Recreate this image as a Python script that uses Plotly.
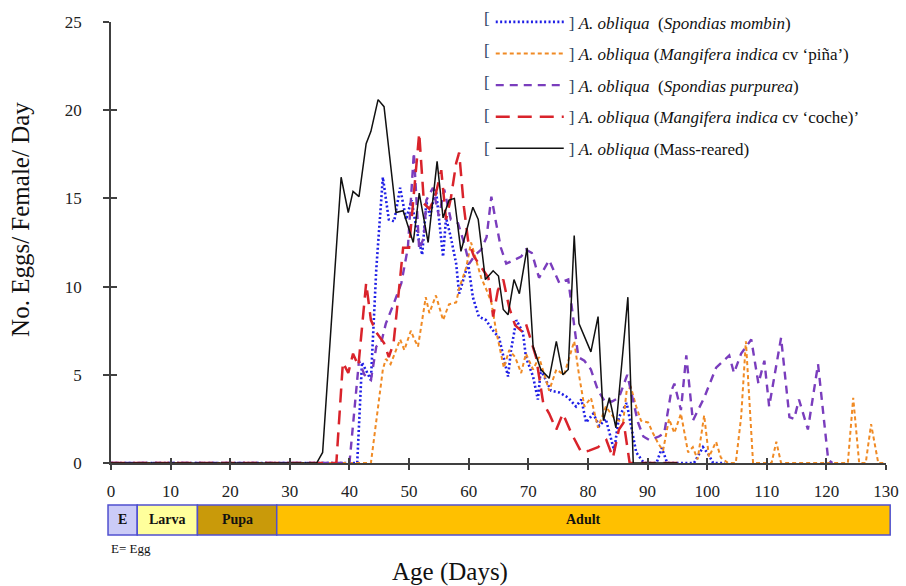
import plotly.graph_objects as go

# ---------------- data ----------------
days_mombin = [0, 41.3, 42.1, 43.6, 44.5, 45.6, 46.6, 47.5, 48.5, 49.5, 50.4, 51.4, 52.2, 52.9, 53.5, 54.5,
               55.7, 56.2, 57.0, 57.9, 58.4, 59.9, 60.7, 61.7, 62.9, 64.1, 65.1, 66.6, 67.1, 68.0, 69.1,
               69.6, 70.8, 71.6, 72.1, 73.8, 75.2, 76.7, 78.0, 78.9, 79.7, 80.9, 81.9, 83.0, 84.4, 85.2,
               86.5, 87.6, 88.1, 89.4, 91.5, 92.4, 93.3, 97.8, 99.3, 100.2, 101.0, 103.0]
eggs_mombin = [0, 0, 5.7, 4.7, 11.0, 16.2, 13.8, 13.7, 15.6, 13.8, 14.9, 13.0, 11.8, 14.8, 14.0, 15.5,
               11.7, 13.9, 12.8, 11.3, 9.6, 11.3, 9.4, 8.3, 8.1, 7.5, 7.1, 4.9, 6.4, 8.1, 7.4,
               6.0, 4.9, 3.6, 5.3, 4.1, 4.0, 3.7, 3.2, 3.6, 2.3, 2.8, 2.1, 2.5, 0.7, 2.6,
               3.4, 1.5, 0.6, 0, 0, 0.85, 0, 0, 0.9, 0.5, 0, 0]

days_pina = [0, 43.6, 45.6, 46.1, 46.9, 47.8, 48.5, 49.2, 50.3, 50.9, 51.5, 52.8, 53.4, 54.5, 55.7, 56.7,
             57.9, 58.4, 59.6, 60.4, 61.2, 62.1, 63.0, 63.8, 64.6, 65.9, 66.8, 67.8, 68.8, 69.6, 70.8,
             71.8, 73.5, 74.7, 76.0, 77.7, 78.5, 79.4, 80.5, 81.7, 83.0, 84.5, 85.9, 86.5, 87.2, 88.1,
             88.9, 90.1, 90.9, 91.8, 92.6, 93.6, 94.5, 95.6, 96.8, 97.6, 98.4, 99.5, 100.3, 101.5, 102.3,
             103.5, 104.8, 105.7, 106.5, 107.7, 110.8, 111.6, 112.4, 123.6, 124.5, 125.5, 126.6, 127.5,
             128.7, 130.0]
eggs_pina = [0, 0, 5.3, 5.9, 5.6, 6.4, 7.0, 6.4, 7.5, 7.0, 6.6, 9.4, 8.5, 9.5, 8.1, 9.0,
             9.1, 9.9, 11.1, 12.5, 11.5, 10.5, 9.8, 9.1, 7.5, 5.4, 6.4, 6.0, 5.1, 6.2, 5.3,
             6.0, 4.1, 5.3, 5.0, 6.9, 5.0, 3.2, 3.7, 2.0, 3.2, 2.5, 2.3, 4.1, 4.3, 3.2,
             2.4, 2.3, 1.7, 1.1, 0.7, 2.5, 1.7, 2.8, 0.6, 0.9, 0.2, 2.7, 0.35, 1.2, 0.3,
             0, 0, 2.6, 6.9, 0, 0, 1.2, 0, 0, 3.7, 0, 0, 2.2,
             0, 0]

days_purpurea = [0, 40.0, 41.6, 42.5, 43.6, 44.5, 45.3, 46.1, 47.5, 48.7, 49.8, 50.8, 51.7, 52.5, 52.9,
                 54.0, 55.0, 55.9, 57.0, 58.2, 59.2, 60.1, 61.1, 62.1, 63.0, 63.8, 64.6, 65.4, 66.3,
                 67.6, 68.8, 69.6, 70.6, 71.8, 73.5, 75.2, 76.7, 77.5, 78.4, 79.4, 80.5, 81.7, 83.0,
                 84.1, 85.2, 86.6, 87.6, 88.4, 89.3, 90.3, 91.9, 92.8, 94.0, 94.5, 95.6, 96.5, 97.6,
                 99.5, 101.5, 103.7, 104.5, 105.7, 107.4, 108.6, 109.6, 110.4, 112.4, 113.8, 114.6,
                 115.4, 116.9, 118.6, 120.3, 121.0]
eggs_purpurea = [0, 0, 5.8, 5.0, 4.7, 6.6, 6.8, 7.9, 9.1, 10.2, 12.2, 17.6, 12.1, 12.8, 14.9,
                 15.6, 14.0, 15.5, 13.8, 13.6, 12.5, 11.3, 11.8, 12.1, 12.8, 15.1, 13.6, 12.2, 11.3,
                 11.5, 11.7, 12.1, 11.9, 10.5, 11.5, 10.2, 10.4, 8.3, 6.0, 5.8, 5.3, 4.1, 3.4,
                 3.5, 3.7, 5.0, 3.6, 2.3, 1.5, 1.3, 1.5, 1.7, 4.1, 4.5, 3.0, 6.1, 2.4,
                 3.7, 5.4, 6.1, 5.1, 6.2, 7.0, 4.5, 5.8, 3.2, 7.1, 2.6, 2.5,
                 3.6, 1.9, 5.6, 0.2, 0]

days_coche = [0, 37.8, 38.9, 39.8, 40.6, 41.5, 42.8, 43.6, 44.5, 45.8, 46.6, 47.4, 48.3, 49.0, 50.0,
              51.7, 52.5, 53.4, 54.3, 55.4, 56.2, 57.0, 57.9, 58.4, 59.2, 59.9, 60.9, 62.1, 63.3, 64.1,
              64.9, 65.8, 66.8, 67.8, 68.8, 69.6, 71.3, 72.5, 73.5, 74.7, 75.8, 77.2, 78.9, 80.2, 81.7,
              83.1, 84.2, 85.2, 86.0, 87.0, 95.0]
eggs_coche = [0, 0, 5.7, 5.1, 6.2, 5.5, 10.2, 8.1, 7.4, 6.8, 6.0, 6.8, 9.8, 12.2, 12.2,
              18.7, 14.7, 14.4, 15.0, 16.6, 13.8, 15.0, 17.0, 17.6, 14.5, 12.6, 11.7, 11.1, 10.5, 8.3,
              9.8, 10.4, 8.8, 7.8, 7.5, 7.9, 6.0, 3.4, 2.8, 1.9, 2.8, 1.7, 0.6, 0.7, 0.9,
              1.3, 0.3, 1.9, 2.3, 0, 0]

days_mass = [0, 34.5, 35.5, 38.6, 39.8, 40.6, 41.6, 42.8, 43.6, 44.8, 45.8, 47.8, 49.0, 50.7, 51.7,
             53.2, 54.7, 55.7, 56.7, 57.6, 58.7, 59.6, 60.7, 61.6, 62.8, 64.1, 65.0, 65.8, 66.6, 67.6,
             68.5, 69.8, 70.8, 72.1, 73.5, 74.7, 75.8, 76.7, 77.7, 78.5, 80.5, 81.7, 82.6, 83.6, 84.7,
             86.7, 87.6, 95.0]
eggs_mass = [0, 0, 0.6, 16.2, 14.2, 15.4, 15.1, 18.1, 18.8, 20.6, 20.2, 14.2, 14.3, 12.5, 15.3,
             12.5, 17.1, 13.9, 14.9, 15.0, 12.0, 13.2, 14.5, 13.8, 10.4, 10.9, 10.6, 8.7, 8.4, 10.4,
             9.6, 12.2, 6.6, 5.3, 4.8, 6.9, 5.0, 5.3, 12.9, 7.9, 6.3, 8.3, 2.4, 3.7, 2.0,
             9.4, 0, 0]

series_names = [
    "<i>A. obliqua</i>  (<i>Spondias mombin</i>)",
    "<i>A. obliqua</i> (<i>Mangifera indica</i> cv ‘piña’)",
    "<i>A. obliqua</i>  (<i>Spondias purpurea</i>)",
    "<i>A. obliqua</i> (<i>Mangifera indica</i> cv ‘coche)’",
    "<i>A. obliqua</i> (Mass-reared)",
]

stage_names = ["E", "Larva", "Pupa", "Adult"]
stage_start = [-0.5, 4.4, 14.5, 27.8]
stage_end = [4.4, 14.5, 27.8, 130.7]

x_ticks = list(range(0, 131, 10))
y_ticks = [0, 5, 10, 15, 20, 25]

# ---------------- styles ----------------
SERIF = "Liberation Serif, Times New Roman, serif"
series_styles = [
    dict(color="#1f1fe6", width=2.6, dash="2px,2.4px"),
    dict(color="#f08a24", width=2.0, dash="4px,3px"),
    dict(color="#7a3dbd", width=2.4, dash="8px,6px"),
    dict(color="#d9232b", width=2.5, dash="14px,8px"),
    dict(color="#111111", width=1.5, dash="solid"),
]
stage_colors = ["#cbcbf7", "#ffff9c", "#c99a0a", "#ffc000"]
AXIS_COL = "#404040"
BRACKET_COL = "#2f4464"

all_days = [days_mombin, days_pina, days_purpurea, days_coche, days_mass]
all_eggs = [eggs_mombin, eggs_pina, eggs_purpurea, eggs_coche, eggs_mass]

fig = go.Figure()
for i, (dx, ey, nm, st) in enumerate(zip(all_days, all_eggs, series_names, series_styles)):
    fig.add_trace(go.Scatter(
        x=dx, y=ey, mode="lines",
        name=f"<span style='color:{BRACKET_COL}'>]</span> " + nm,
        line=st, legendgroup=f"g{i}",
    ))

# invisible trace to draw the inward half of the ticks
fig.add_trace(go.Scatter(x=[None], y=[None], xaxis="x2", yaxis="y2",
                         showlegend=False, hoverinfo="skip"))

X_RANGE = [0, 130]
Y_RANGE = [0, 25]

axis_common = dict(showgrid=False, zeroline=False, tickcolor=AXIS_COL, tickwidth=1.5,
                   linecolor=AXIS_COL, linewidth=1.5, automargin=False,
                   tickfont=dict(family=SERIF, size=17, color="#222222"))

fig.update_layout(
    width=906, height=586,
    margin=dict(l=111, r=20, t=22, b=123, autoexpand=False),
    paper_bgcolor="white", plot_bgcolor="white",
    font=dict(family=SERIF, size=17, color="#111111"),
    showlegend=True,
    legend=dict(x=0.49, y=1.04, xanchor="left", yanchor="top",
                bgcolor="rgba(0,0,0,0)", borderwidth=0,
                font=dict(family=SERIF, size=17, color="#111111"),
                itemwidth=68, tracegroupgap=6.5, traceorder="grouped",
                itemclick=False, itemdoubleclick=False),
    xaxis=dict(range=X_RANGE, tickvals=x_ticks, ticks="outside", ticklen=5,
               showline=True, ticklabelstandoff=7, **axis_common),
    yaxis=dict(range=Y_RANGE, tickvals=y_ticks, ticks="outside", ticklen=6,
               showline=True, ticklabelstandoff=18, **axis_common),
    xaxis2=dict(range=X_RANGE, tickvals=x_ticks, ticks="inside", ticklen=5,
                overlaying="x", showticklabels=False, showline=False, automargin=False,
                showgrid=False, zeroline=False, tickcolor=AXIS_COL, tickwidth=1.5),
    yaxis2=dict(range=Y_RANGE, tickvals=y_ticks, ticks="inside", ticklen=6,
                overlaying="y", showticklabels=False, showline=False, automargin=False,
                showgrid=False, zeroline=False, tickcolor=AXIS_COL, tickwidth=1.5),
)

# ---------------- life-stage bar below the axis ----------------
span = X_RANGE[1] - X_RANGE[0]
bar_y0, bar_y1 = -0.163, -0.095
for nm, s0, s1, col in zip(stage_names, stage_start, stage_end, stage_colors):
    p0 = (s0 - X_RANGE[0]) / span
    p1 = (s1 - X_RANGE[0]) / span
    fig.add_shape(type="rect", xref="paper", yref="paper", x0=p0, x1=p1, y0=bar_y0, y1=bar_y1,
                  fillcolor=col, line=dict(color="#5050cf", width=1.5), layer="above")
    fig.add_annotation(xref="paper", yref="paper", x=(p0 + p1) / 2, y=(bar_y0 + bar_y1) / 2,
                       text=f"<b>{nm}</b>", showarrow=False, xanchor="center", yanchor="middle",
                       font=dict(family=SERIF, size=14, color="#111111"))

fig.add_annotation(xref="paper", yref="paper", x=-0.002, y=-0.193, xanchor="left", yanchor="middle",
                   text="E= Egg", showarrow=False, font=dict(family=SERIF, size=13, color="#111111"))

# axis titles
fig.add_annotation(xref="paper", yref="paper", x=0.437, y=-0.247, text="Age (Days)", showarrow=False,
                   xanchor="center", yanchor="middle",
                   font=dict(family=SERIF, size=25, color="#111111"))
fig.add_annotation(xref="paper", yref="paper", x=-0.117, y=0.552, text="No. Eggs/ Female/ Day",
                   textangle=-90, showarrow=False, xanchor="center", yanchor="middle",
                   font=dict(family=SERIF, size=25, color="#111111"))

# left brackets of legend entries
legend_rows_px = [18, 50.5, 83, 115.5, 148]
for ry in legend_rows_px:
    fig.add_annotation(xref="paper", yref="paper", x=(487 - 111) / 775, y=(463 - ry) / 441,
                       text="[", showarrow=False, xanchor="center", yanchor="middle",
                       font=dict(family=SERIF, size=17, color=BRACKET_COL))

fig.write_html("out.html", config={"displayModeBar": False},
               post_script="document.body.style.margin='0';document.body.style.padding='0';")
